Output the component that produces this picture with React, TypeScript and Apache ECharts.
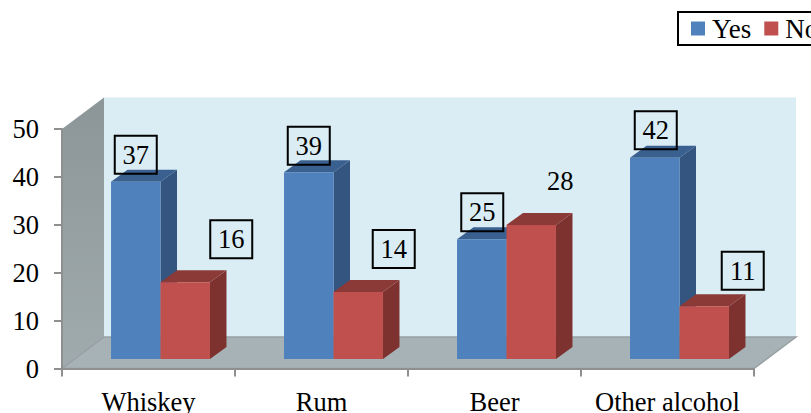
import React, { useEffect, useRef } from "react";
import * as echarts from "echarts";

const categories = ["Whiskey", "Rum", "Beer", "Other alcohol"];
const yesValues = [37, 39, 25, 42];
const noValues = [16, 14, 28, 11];
const yesLabelOffsets = [[0, -27], [0, -26.5], [0.5, -27], [1, -27.5]];
const noLabelOffsets = [[46, -43], [35.5, -43], [29, -44], [38.5, -35.5]];
const noLabelBoxed = [true, true, false, true];

const FONT = '"Liberation Serif", "Times New Roman", serif';
const WALL_DX = 42;
const WALL_DY = -31.5;
const BAR_SHIFT_X = 12;
const BAR_SHIFT_Y = -9.5;
const BAR_DX = 16.5;
const BAR_DY = -12;
const BAR_FRACTION = 0.286;

const pts = (x: number, y: number, w: number, h: number) => ({
  front: [[x, y], [x + w, y], [x + w, y + h], [x, y + h]],
  top: [[x, y], [x + BAR_DX, y + BAR_DY], [x + w + BAR_DX, y + BAR_DY], [x + w, y]],
  side: [[x + w, y], [x + w + BAR_DX, y + BAR_DY], [x + w + BAR_DX, y + h + BAR_DY], [x + w, y + h]],
});

function barRenderer(side: -1 | 0, colors: string[], offsets: number[][], boxed: boolean[]) {
  return (params: any, api: any) => {
    const idx = api.value(0);
    const val = api.value(1);
    const [cx, top] = api.coord([idx, val]);
    const [, base] = api.coord([idx, 0]);
    const w = api.size([1, 0])[0] * BAR_FRACTION;
    const x = cx + BAR_SHIFT_X + side * w;
    const y = top + BAR_SHIFT_Y;
    const h = base - top;
    const p = pts(x, y, w, h);
    const lx = x + w / 2 + offsets[idx][0];
    const ly = y + offsets[idx][1];
    const children: any[] = [
      { type: "polygon", shape: { points: p.side }, style: { fill: colors[2] } },
      { type: "polygon", shape: { points: p.top }, style: { fill: colors[1] } },
      { type: "polygon", shape: { points: p.front }, style: { fill: colors[0] } },
    ];
    if (boxed[idx]) {
      children.push({
        type: "rect",
        shape: { x: lx - 21, y: ly - 19, width: 42, height: 38 },
        style: { fill: "transparent", stroke: "#000", lineWidth: 2 },
      });
    }
    children.push({
      type: "text",
      style: {
        text: String(val), x: lx, y: ly, fill: "#000", font: `26.5px ${FONT}`,
        textAlign: "center", textVerticalAlign: "middle",
      },
    });
    return { type: "group", children };
  };
}

function wallRenderer(params: any) {
  const { x, y, width: w, height: h } = params.coordSys;
  return {
    type: "group",
    children: [
      {
        type: "polygon",
        shape: { points: [[x + WALL_DX, y + WALL_DY], [x + w + WALL_DX, y + WALL_DY], [x + w + WALL_DX, y + h + WALL_DY], [x + WALL_DX, y + h + WALL_DY]] },
        style: { fill: "#daedf4" },
      },
      {
        type: "polygon",
        shape: { points: [[x, y], [x + WALL_DX, y + WALL_DY], [x + WALL_DX, y + h + WALL_DY], [x, y + h]] },
        style: {
          fill: new echarts.graphic.LinearGradient(0, 0, 0, 1, [
            { offset: 0, color: "#8c9699" },
            { offset: 1, color: "#a0abae" },
          ]),
        },
      },
      {
        type: "polygon",
        shape: { points: [[x, y + h], [x + w, y + h], [x + w + WALL_DX, y + h + WALL_DY], [x + WALL_DX, y + h + WALL_DY]] },
        style: { fill: "#a6b2b5", stroke: "#98a0a2", lineWidth: 1.5 },
      },
    ],
  };
}

export default function App() {
  const ref = useRef<HTMLDivElement>(null);
  useEffect(() => {
    document.body.style.margin = "0";
    document.body.style.overflow = "hidden";
    const chart = echarts.init(ref.current!, null, { renderer: "svg" });
    chart.setOption({
      animation: false,
      backgroundColor: "#fff",
      textStyle: { fontFamily: FONT },
      grid: { left: 62, right: 57, top: 129, bottom: 44.5, outerBoundsMode: "none" },
      legend: {
        data: ["Yes", "No"],
        left: 678,
        top: 12,
        width: 300,
        orient: "horizontal",
        padding: [3, 14, 3, 13],
        itemGap: 13,
        itemWidth: 14,
        itemHeight: 14,
        icon: "rect",
        selectedMode: false,
        borderColor: "#000",
        borderWidth: 2,
        textStyle: { fontFamily: FONT, fontSize: 27, color: "#000", padding: [0, 0, 0, 2] },
      },
      xAxis: {
        type: "category",
        data: categories,
        axisLine: { show: true, lineStyle: { color: "#8f8f8f", width: 2 } },
        axisTick: { show: true, length: 8, lineStyle: { color: "#8f8f8f", width: 2 } },
        axisLabel: { color: "#000", fontSize: 26.5, fontFamily: FONT, margin: 20, interval: 0 },
      },
      yAxis: {
        type: "value",
        min: 0,
        max: 50,
        interval: 10,
        splitLine: { show: false },
        axisLine: { show: true, lineStyle: { color: "#8f8f8f", width: 2 } },
        axisTick: { show: true, length: 8, lineStyle: { color: "#8f8f8f", width: 2 } },
        axisLabel: { color: "#000", fontSize: 26.5, fontFamily: FONT, margin: 23 },
      },
      series: [
        { type: "custom", name: "walls", silent: true, z: 0, data: [[0, 0]], renderItem: wallRenderer },
        {
          type: "custom", name: "Yes", z: 3, itemStyle: { color: "#4f81bd" },
          data: yesValues.map((v, i) => [i, v]),
          renderItem: barRenderer(-1, ["#4f81bd", "#3a6090", "#34557f"], yesLabelOffsets, [true, true, true, true]),
        },
        {
          type: "custom", name: "No", z: 4, itemStyle: { color: "#c0504d" },
          data: noValues.map((v, i) => [i, v]),
          renderItem: barRenderer(0, ["#c0504d", "#8c3a38", "#7d3230"], noLabelOffsets, noLabelBoxed),
        },
      ],
    });
    return () => chart.dispose();
  }, []);
  return <div ref={ref} style={{ width: 811, height: 413 }} />;
}
